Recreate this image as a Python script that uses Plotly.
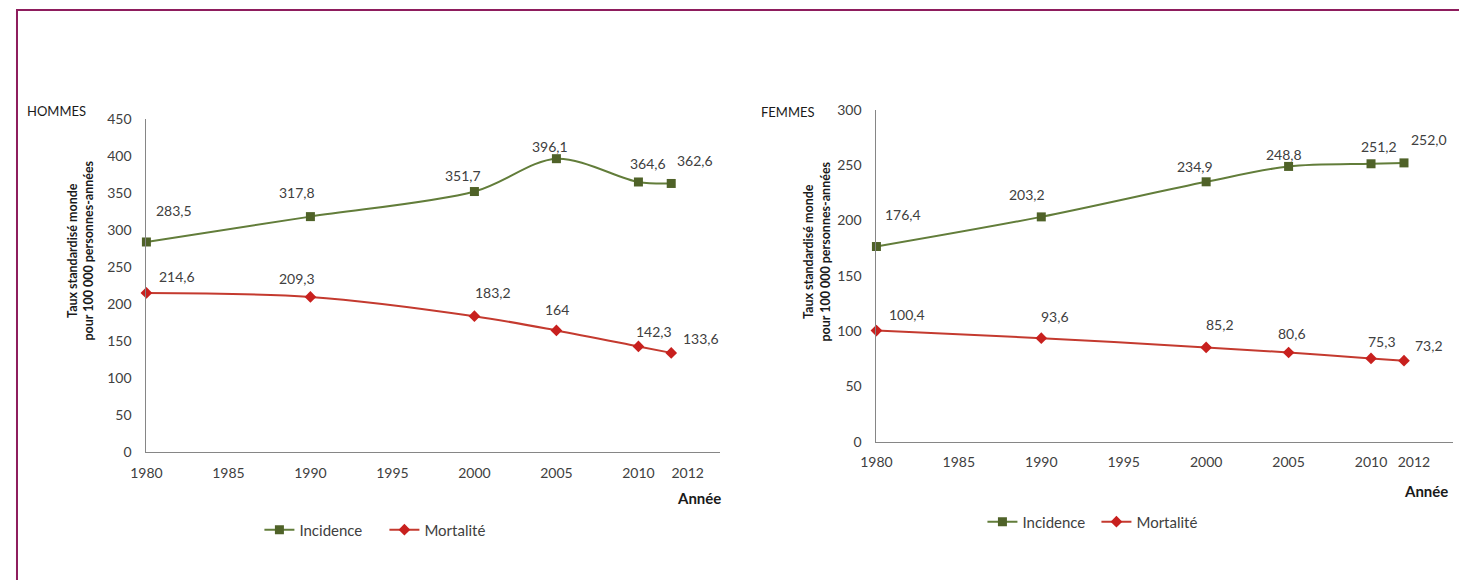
import plotly.graph_objects as go

# Années de diagnostic
years = [1980, 1990, 2000, 2005, 2010, 2012]

# Taux standardisés monde (pour 100 000 personnes-années), tels qu'affichés
hommes_incidence = ["283,5", "317,8", "351,7", "396,1", "364,6", "362,6"]
hommes_mortalite = ["214,6", "209,3", "183,2", "164", "142,3", "133,6"]
femmes_incidence = ["176,4", "203,2", "234,9", "248,8", "251,2", "252,0"]
femmes_mortalite = ["100,4", "93,6", "85,2", "80,6", "75,3", "73,2"]

x_ticks = [1980, 1985, 1990, 1995, 2000, 2005, 2010, 2012]

# Décalage des étiquettes de valeur (pixels, x vers la droite, y vers le haut)
off_h_inc = [(27, 30), (-13, 23), (-11, 16), (-6, 12), (9, 18), (24, 22)]
off_h_mor = [(30, 16), (-13, 18), (18, 23), (1, 20), (15, 14), (29, 14)]
off_f_inc = [(26, 31), (-14, 22), (-11, 15), (-5, 12), (8, 17), (25, 23)]
off_f_mor = [(30, 16), (14, 21), (14, 22), (3, 18), (11, 16), (25, 15)]


def to_num(labels):
    return [float(s.replace(",", ".")) for s in labels]


W, H = 1459, 580
# Layout positions below are written in page pixels; this converts them to
# figure pixels (origin offset and scale of the rendered page).
OX, SX = 14.6, 0.989
OY, SY = 9.5, 0.968

FONT = "Lato, 'Open Sans', sans-serif"
TXT = "#404040"
AXIS = "#868686"
INC_LINE, INC_MARK = "#627d3a", "#4f6228"
MOR_LINE, MOR_MARK = "#c43a2f", "#c8201e"


def px(x):
    return min(max((x - OX) / SX / W, 0.0), 1.0)


def py(y):
    return min(max(1 - (y - OY) / SY / H, 0.0), 1.0)


fig = go.Figure()

panels = [
    dict(xa="x", ya="y", legend="legend", inc=hommes_incidence, mor=hommes_mortalite,
         oi=off_h_inc, om=off_h_mor),
    dict(xa="x2", ya="y2", legend="legend2", inc=femmes_incidence, mor=femmes_mortalite,
         oi=off_f_inc, om=off_f_mor),
]

annotations = []
for p in panels:
    inc = to_num(p["inc"])
    mor = to_num(p["mor"])
    fig.add_trace(go.Scatter(
        x=years, y=inc, name="Incidence", mode="lines+markers",
        line=dict(color=INC_LINE, width=2, shape="spline", smoothing=0.9),
        marker=dict(symbol="square", size=9, color=INC_MARK),
        xaxis=p["xa"], yaxis=p["ya"], legend=p["legend"], cliponaxis=False,
    ))
    fig.add_trace(go.Scatter(
        x=years, y=mor, name="Mortalité", mode="lines+markers",
        line=dict(color=MOR_LINE, width=2, shape="spline", smoothing=0.9),
        marker=dict(symbol="diamond", size=9, color=MOR_MARK),
        xaxis=p["xa"], yaxis=p["ya"], legend=p["legend"], cliponaxis=False,
    ))
    for vals, labs, offs in ((inc, p["inc"], p["oi"]), (mor, p["mor"], p["om"])):
        for xv, yv, lab, (dx, dy) in zip(years, vals, labs, offs):
            annotations.append(dict(
                x=xv, y=yv, xref=p["xa"], yref=p["ya"], text=lab,
                showarrow=False, xshift=dx / SX, yshift=dy / SY,
                xanchor="center", yanchor="middle",
                font=dict(family=FONT, size=14, color=TXT),
            ))


def xaxis_style(last_tick_pos):
    return dict(
        range=[1980, 2015],
        tickvals=[1980, 1985, 1990, 1995, 2000, 2005, 2010, last_tick_pos],
        ticktext=[str(t) for t in x_ticks], showgrid=False, zeroline=False,
        showline=True, linecolor=AXIS, linewidth=1, ticks="outside", ticklen=8,
        tickcolor="rgba(0,0,0,0)", tickfont=dict(family=FONT, size=14, color=TXT),
    )


yaxis_common = dict(
    showgrid=False, zeroline=False, showline=True, linecolor=AXIS, linewidth=1,
    ticks="outside", ticklen=11, tickcolor="rgba(0,0,0,0)",
    tickfont=dict(family=FONT, size=14, color=TXT),
)

ytitle = "<b>Taux standardisé monde</b><br><b>pour 100 000 personnes-années</b>"


def page_text(x, y, text, size, angle=0):
    return dict(x=px(x), y=py(y), xref="paper", yref="paper", text=text,
                textangle=angle, showarrow=False, xanchor="center",
                yanchor="middle", align="center",
                font=dict(family=FONT, size=size, color="#1a1a1a"))


annotations += [
    page_text(79, 250, ytitle, 12.5, -90),
    page_text(815, 251, ytitle, 12.5, -90),
    page_text(698, 497, "<b>Année</b>", 15),
    page_text(1425, 490, "<b>Année</b>", 15),
    page_text(55, 111, "HOMMES", 13),
    page_text(787, 112, "FEMMES", 13),
]

legend_common = dict(
    orientation="h", xanchor="center", yanchor="middle",
    font=dict(family=FONT, size=15, color=TXT), bgcolor="rgba(0,0,0,0)",
    itemwidth=30, tracegroupgap=0, entrywidthmode="pixels",
)

fig.update_layout(
    width=W, height=H, margin=dict(l=0, r=0, t=0, b=0),
    paper_bgcolor="white", plot_bgcolor="white",
    xaxis=dict(domain=[px(145), px(719)], anchor="y", **xaxis_style(2013.0)),
    yaxis=dict(domain=[py(451), py(119)], range=[0, 450], dtick=50, anchor="x",
               **yaxis_common),
    xaxis2=dict(domain=[px(875), px(1452)], anchor="y2", **xaxis_style(2012.6)),
    yaxis2=dict(domain=[py(441), py(110)], range=[0, 300], dtick=50, anchor="x2",
                **yaxis_common),
    legend=dict(x=px(383), y=py(529), entrywidth=80, **legend_common),
    legend2=dict(x=px(1095), y=py(521), entrywidth=69, **legend_common),
    annotations=annotations,
    shapes=[dict(type="rect", xref="paper", yref="paper",
                 x0=1 / W, y0=1 - 1 / H, x1=1.05, y1=-0.05,
                 line=dict(color="#8e1d5d", width=2), fillcolor="rgba(0,0,0,0)")],
    showlegend=True,
)

fig.write_html("out.html")
